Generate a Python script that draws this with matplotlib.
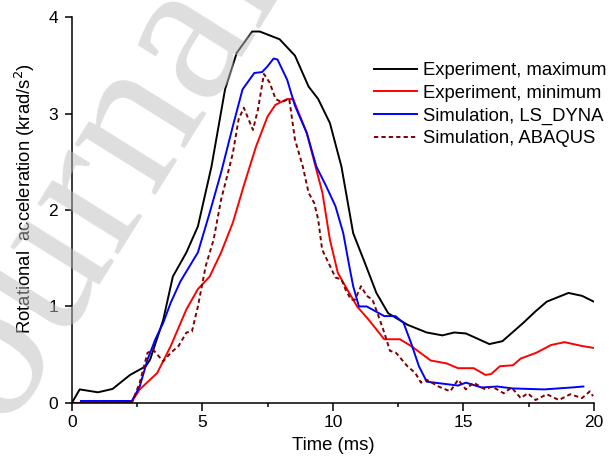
import matplotlib
matplotlib.use("Agg")
import matplotlib.pyplot as plt
from matplotlib.ticker import MultipleLocator

plt.rcParams['font.family'] = ['Liberation Sans', 'DejaVu Sans']

# Experiment, maximum
t_max = [0, 0.3, 1.0, 1.56, 2.23, 2.83, 3.0, 3.5, 3.87, 4.39, 4.83, 5.35, 5.87, 6.32, 6.91, 7.2,
         7.96, 8.55, 9.07, 9.44, 9.89, 10.33, 10.78, 11.23, 11.67, 12.12, 12.86, 13.6, 14.2,
         14.65, 15.1, 16.0, 16.5, 17.3, 17.77, 18.2, 19.03, 19.55, 20.0]
v_max = [0, 0.14, 0.11, 0.145, 0.29, 0.38, 0.45, 0.86, 1.31, 1.56, 1.83, 2.45, 3.25, 3.63, 3.85, 3.85,
         3.77, 3.6, 3.28, 3.15, 2.9, 2.45, 1.76, 1.45, 1.14, 0.93, 0.81, 0.73, 0.70,
         0.73, 0.72, 0.61, 0.64, 0.83, 0.95, 1.05, 1.14, 1.11, 1.05]

# Experiment, minimum
t_min = [0, 1.0, 2.29, 2.6, 3.27, 3.79, 4.39, 4.83, 5.28, 5.72, 6.17, 6.62, 7.06, 7.5, 7.8, 8.25,
         8.48, 9.0, 9.3, 9.6, 9.89, 10.19, 10.48, 10.93, 11.38, 11.97, 12.57, 13.0, 13.75, 14.35,
         14.8, 15.4, 15.85, 16.07, 16.4, 16.9, 17.2, 17.8, 18.36, 18.88, 19.55, 20.0]
v_min = [0, 0.0, 0.01, 0.14, 0.31, 0.59, 0.97, 1.18, 1.31, 1.56, 1.87, 2.28, 2.66, 2.97, 3.09, 3.15,
         3.15, 2.8, 2.49, 2.18, 1.69, 1.35, 1.21, 1.0, 0.86, 0.66, 0.66, 0.59, 0.44, 0.41,
         0.36, 0.36, 0.29, 0.30, 0.38, 0.39, 0.46, 0.52, 0.60, 0.63, 0.59, 0.57]

# Simulation, LS_DYNA
t_ls = [0.35, 1.0, 2.3, 2.6, 2.9, 3.2, 3.5, 3.79, 4.16, 4.83, 5.28, 5.72, 6.17, 6.54, 6.99, 7.29,
        7.5, 7.73, 7.88, 8.25, 8.55, 9.0, 9.37, 9.74, 10.1, 10.4, 10.63, 10.78, 11.0, 11.3,
        11.97, 12.4, 12.71, 13.0, 13.3, 13.6, 13.9, 14.8, 15.1, 15.7, 16.3, 16.9, 18.1, 19.15, 19.6]
v_ls = [0.02, 0.02, 0.02, 0.17, 0.45, 0.66, 0.83, 1.04, 1.26, 1.56, 1.97, 2.39, 2.87, 3.25, 3.42, 3.43,
        3.49, 3.57, 3.56, 3.35, 3.08, 2.8, 2.45, 2.25, 2.04, 1.76, 1.42, 1.21, 1.0, 1.0,
        0.9, 0.9, 0.83, 0.62, 0.38, 0.22, 0.21, 0.18, 0.21, 0.16, 0.17, 0.15, 0.14, 0.16, 0.17]

# Simulation, ABAQUS
t_ab = [0, 1.0, 2.3, 2.6, 2.9, 3.12, 3.5, 3.79, 4.09, 4.39, 4.6, 4.83, 5.13, 5.43, 5.72, 5.95,
        6.17, 6.39, 6.59, 6.77, 6.94, 7.13, 7.36, 7.58, 7.81, 8.03, 8.33, 8.55, 8.85, 9.07,
        9.29, 9.44, 9.59, 9.89, 10.1, 10.33, 10.48, 10.7, 10.85, 11.08, 11.3, 11.52, 11.75,
        11.97, 12.19, 12.42, 12.64, 12.86, 13.16, 13.38, 13.6, 14.05, 14.5, 14.8, 15.1, 15.39,
        15.84, 16.1, 16.55, 16.85, 17.2, 17.47, 17.77, 18.2, 18.66, 19.1, 19.55, 19.85, 19.97]
v_ab = [0, 0.0, 0.0, 0.21, 0.52, 0.55, 0.43, 0.52, 0.59, 0.73, 0.74, 1.0, 1.42, 1.69, 2.11, 2.35,
        2.59, 2.94, 3.06, 2.94, 2.83, 3.04, 3.41, 3.32, 3.15, 3.12, 3.15, 2.73, 2.45, 2.18,
        2.07, 1.9, 1.59, 1.42, 1.3, 1.28, 1.18, 1.07, 1.07, 1.21, 1.11, 1.07, 0.9,
        0.73, 0.54, 0.52, 0.45, 0.38, 0.31, 0.21, 0.24, 0.17, 0.12, 0.24, 0.14, 0.21,
        0.14, 0.17, 0.10, 0.16, 0.05, 0.10, 0.03, 0.09, 0.03, 0.09, 0.05, 0.12, 0.07]

fig = plt.figure(figsize=(6.09, 4.61), dpi=100)
ax = fig.add_axes([0.118, 0.126, 0.857, 0.837])

ax.plot(t_max, v_max, color="black", lw=1.4, label="Experiment, maximum")
ax.plot(t_min, v_min, color="red", lw=1.4, label="Experiment, minimum")
ax.plot(t_ls, v_ls, color="blue", lw=1.4, label="Simulation, LS_DYNA")
ax.plot(t_ab, v_ab, color="#800000", lw=1.4, linestyle=(0, (2.2, 1.6)), label="Simulation, ABAQUS")

ax.set_xlim(0, 20)
ax.set_ylim(0, 4)
ax.xaxis.set_major_locator(MultipleLocator(5))
ax.xaxis.set_minor_locator(MultipleLocator(2.5))
ax.yaxis.set_major_locator(MultipleLocator(1))
ax.spines["top"].set_visible(False)
ax.spines["right"].set_visible(False)
for s in ["left", "bottom"]:
    ax.spines[s].set_linewidth(1.1)
ax.tick_params(which="major", direction="out", length=5.5, width=1.1, labelsize=12.5)
ax.tick_params(which="minor", direction="out", length=3, width=1.1)
ax.tick_params(axis="y", length=5, pad=5)

ax.set_xlabel("Time (ms)", fontsize=13.3, labelpad=5)
ax.set_ylabel("Rotational  acceleration (krad/s$^2$)", fontsize=13.3)
ax.yaxis.set_label_coords(-0.066, 0.53)

ax.legend(loc="upper left", bbox_to_anchor=(0.614, 0.865), bbox_transform=fig.transFigure,
          frameon=False, fontsize=13.3, handlelength=2.35, handletextpad=0.3,
          labelspacing=0.3, borderpad=0, borderaxespad=0)

# watermark
fig.text(-0.06, -0.09, "Journal Pre-proof", fontsize=150, family="Liberation Serif",
         color="#bdbdbd", alpha=0.5, rotation=58, rotation_mode="anchor",
         ha="left", va="baseline", zorder=10)

fig.savefig("out.png", dpi=100)
